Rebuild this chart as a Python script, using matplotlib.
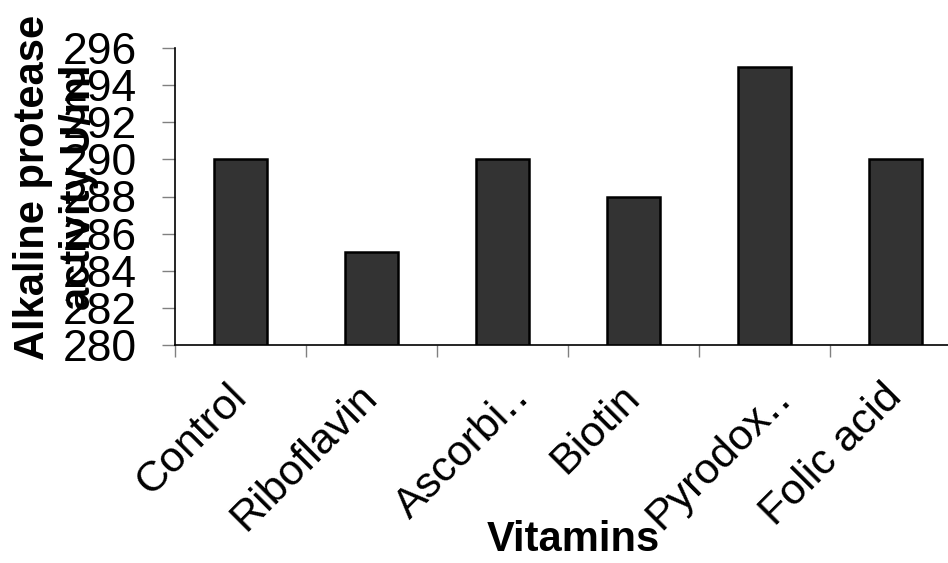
import numpy as np
import matplotlib
matplotlib.use("Agg")
import matplotlib.pyplot as plt
from matplotlib.transforms import ScaledTranslation

vitamins = ["Control", "Riboflavin", "Ascorbi\u2025", "Biotin", "Pyrodox\u2025", "Folic acid"]
activity = [290, 285, 290, 288, 295, 290]
y_ticks = [280, 282, 284, 286, 288, 290, 292, 294, 296]

plt.rcParams["font.family"] = ["Liberation Sans", "DejaVu Sans"]

fig = plt.figure(figsize=(9.48, 5.63), dpi=100)
ax = fig.add_axes([175 / 948, 1 - 345 / 563, (961 - 175) / 948, (345 - 48) / 563])

x = np.arange(len(vitamins))
ax.bar(x, activity, width=0.4, color="#333333", edgecolor="black",
       linewidth=1.8, zorder=2)

ax.set_ylim(280, 296)
ax.set_xlim(-0.5, len(vitamins) - 0.5)
ax.set_yticks(y_ticks)
ax.set_yticklabels([str(v) for v in y_ticks], fontsize=32)

# category names on the major ticks, separator ticks between categories
ax.set_xticks(x)
ax.set_xticklabels(vitamins, fontsize=31, rotation=45, ha="right", va="center",
                   rotation_mode="anchor")
ax.set_xticks(np.arange(-0.5, len(vitamins)), minor=True)
ax.tick_params(axis="x", which="major", length=0, pad=33)
ax.tick_params(axis="x", which="minor", length=8.6, width=1, color="#808080")
ax.tick_params(axis="y", length=9.4, width=1, color="#808080", pad=18)

# shortened names sit a little further right (after tick_params, which resets transforms)
for lbl in ax.get_xticklabels():
    if lbl.get_text().endswith("\u2025"):
        lbl.set_transform(lbl.get_transform()
                          + ScaledTranslation(15 / 72, 0, fig.dpi_scale_trans))

for side in ("top", "right"):
    ax.spines[side].set_visible(False)
for side in ("left", "bottom"):
    ax.spines[side].set_linewidth(1.2)

fig.text(56 / 948, 1 - 187.5 / 563, "Alkaline protease\nactivity U/ml",
         rotation=90, ha="center", va="center", multialignment="center",
         fontsize=30, fontweight="bold")
fig.text(573 / 948, 1 - 540 / 563, "Vitamins", ha="center", va="center",
         fontsize=30, fontweight="bold")

fig.savefig("out.png", dpi=100)
